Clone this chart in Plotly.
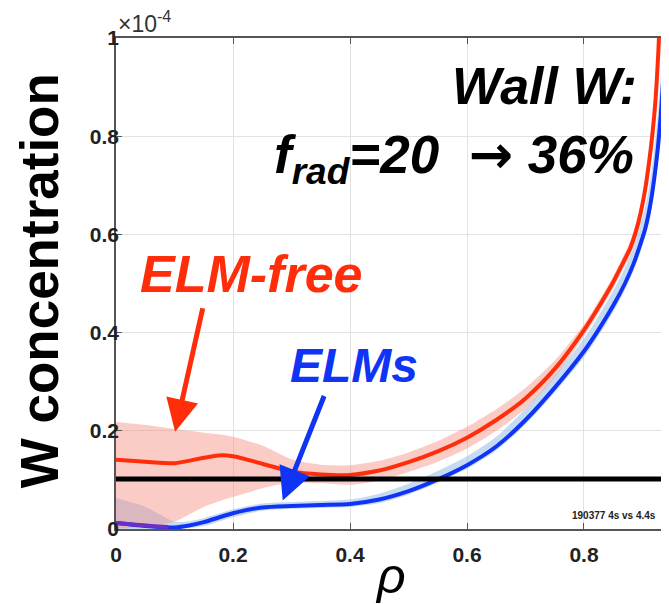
import plotly.graph_objects as go

# ---------------- data (W concentration in units of 1e-4) ----------------
rho_red = [0.0, 0.05, 0.1, 0.15, 0.18, 0.2, 0.25, 0.3, 0.35, 0.4, 0.45, 0.5, 0.55, 0.6,
           0.65, 0.7, 0.75, 0.8, 0.825, 0.85, 0.865, 0.879, 0.888, 0.897, 0.905, 0.911,
           0.917, 0.922, 0.927, 0.932]
red_mid = [0.141, 0.137, 0.134, 0.145, 0.150, 0.148, 0.133, 0.117, 0.111, 0.110, 0.119, 0.136,
           0.158, 0.186, 0.222, 0.266, 0.326, 0.405, 0.452, 0.503, 0.538, 0.572, 0.603, 0.645,
           0.695, 0.745, 0.805, 0.870, 0.970, 1.100]
red_hi = [0.218, 0.212, 0.204, 0.196, 0.192, 0.188, 0.170, 0.142, 0.131, 0.130, 0.139, 0.156,
          0.179, 0.208, 0.244, 0.287, 0.343, 0.417, 0.464, 0.515, 0.551, 0.586, 0.618, 0.662,
          0.715, 0.768, 0.833, 0.905, 1.015, 1.160]
red_lo = [0.000, 0.005, 0.015, 0.045, 0.058, 0.065, 0.083, 0.094, 0.093, 0.090, 0.099, 0.116,
          0.137, 0.164, 0.200, 0.245, 0.309, 0.393, 0.440, 0.491, 0.525, 0.558, 0.588, 0.628,
          0.675, 0.722, 0.777, 0.835, 0.925, 1.040]

rho_blue = [0.0, 0.05, 0.1, 0.125, 0.15, 0.2, 0.25, 0.3, 0.35, 0.4, 0.45, 0.5, 0.55, 0.6,
            0.65, 0.7, 0.75, 0.8, 0.825, 0.85, 0.87, 0.885, 0.895, 0.905, 0.913, 0.92,
            0.926, 0.931, 0.935, 0.938, 0.943]
blue_mid = [0.012, 0.006, 0.003, 0.007, 0.014, 0.032, 0.044, 0.047, 0.049, 0.051, 0.060, 0.077,
            0.101, 0.130, 0.168, 0.222, 0.288, 0.362, 0.406, 0.455, 0.500, 0.541, 0.575, 0.613,
            0.658, 0.713, 0.773, 0.838, 0.908, 0.980, 1.120]
blue_hi = [0.063, 0.045, 0.015, 0.016, 0.022, 0.040, 0.052, 0.055, 0.057, 0.060, 0.072, 0.092,
           0.118, 0.148, 0.188, 0.245, 0.312, 0.388, 0.434, 0.485, 0.532, 0.576, 0.615, 0.658,
           0.708, 0.773, 0.843, 0.918, 0.998, 1.080, 1.240]
blue_lo = [0.000, 0.000, 0.000, 0.002, 0.006, 0.024, 0.037, 0.041, 0.043, 0.045, 0.053, 0.070,
           0.094, 0.123, 0.160, 0.213, 0.278, 0.350, 0.394, 0.442, 0.487, 0.527, 0.560, 0.596,
           0.638, 0.690, 0.746, 0.806, 0.873, 0.940, 1.080]

rho_purple = [0.0, 0.03, 0.06, 0.09]
purple_mid = [0.012, 0.009, 0.006, 0.004]

threshold = 0.102

x_ticks = [0, 0.2, 0.4, 0.6, 0.8]
x_ticklabels = ["0", "0.2", "0.4", "0.6", "0.8"]
y_ticks = [0, 0.2, 0.4, 0.6, 0.8, 1.0]
y_ticklabels = ["0", "0.2", "0.4", "0.6", "0.8", "1"]

RED = "#ff2d0a"
BLUE = "#1034f5"
PURPLE = "#6a2fc4"
PINK_FILL = "rgba(247,140,128,0.45)"
LBLUE_FILL = "rgba(150,190,232,0.55)"

SM = 0.7

fig = go.Figure()

# blue band
fig.add_trace(go.Scatter(x=rho_blue, y=blue_lo, mode="lines", line=dict(width=0, shape="spline", smoothing=SM),
                         hoverinfo="skip", showlegend=False))
fig.add_trace(go.Scatter(x=rho_blue, y=blue_hi, mode="lines", line=dict(width=0, shape="spline", smoothing=SM),
                         fill="tonexty", fillcolor=LBLUE_FILL, hoverinfo="skip", showlegend=False))
# red band
fig.add_trace(go.Scatter(x=rho_red, y=red_lo, mode="lines", line=dict(width=0, shape="spline", smoothing=SM),
                         hoverinfo="skip", showlegend=False))
fig.add_trace(go.Scatter(x=rho_red, y=red_hi, mode="lines", line=dict(width=0, shape="spline", smoothing=SM),
                         fill="tonexty", fillcolor=PINK_FILL, hoverinfo="skip", showlegend=False))
# lines
fig.add_trace(go.Scatter(x=rho_red, y=red_mid, mode="lines", line=dict(color=RED, width=4, shape="spline", smoothing=SM),
                         showlegend=False))
fig.add_trace(go.Scatter(x=rho_blue, y=blue_mid, mode="lines", line=dict(color=BLUE, width=4, shape="spline", smoothing=SM),
                         showlegend=False))
fig.add_trace(go.Scatter(x=rho_purple, y=purple_mid, mode="lines", line=dict(color=PURPLE, width=4, shape="spline"),
                         showlegend=False))

# threshold line
fig.add_shape(type="line", xref="x domain", yref="y", x0=0, x1=1, y0=threshold, y1=threshold,
              line=dict(color="black", width=5), layer="above")

axis_common = dict(showline=True, linecolor="#555555", linewidth=1.5, mirror="ticks",
                   ticks="inside", ticklen=6, tickcolor="#555555", tickwidth=1.2,
                   showgrid=True, gridcolor="#e2e2e2", gridwidth=1, zeroline=False,
                   automargin=False,
                   tickfont=dict(family="Liberation Sans", size=21, color="#222222", weight="bold"))

fig.update_xaxes(range=[0, 0.9436], tickvals=x_ticks, ticktext=x_ticklabels,
                 ticklabelstandoff=6, **axis_common)
fig.update_yaxes(range=[0, 1.0], tickvals=y_ticks, ticktext=y_ticklabels,
                 ticklabelstandoff=-9, **axis_common)

ann = []
ann.append(dict(text="W concentration", xref="paper", yref="paper", x=-0.139, y=0.505,
                textangle=-90, showarrow=False, xanchor="center", yanchor="middle",
                font=dict(family="Liberation Sans", size=53, color="black", weight="bold")))
ann.append(dict(text="<i>ρ</i>", xref="paper", yref="paper", x=(390 - 116) / 552, y=-0.095,
                showarrow=False, xanchor="center", yanchor="middle",
                font=dict(family="Liberation Sans", size=50, color="black")))
ann.append(dict(text="×10<sup>-4</sup>", xref="paper", yref="paper", x=0.0, y=1.0,
                showarrow=False, xanchor="left", yanchor="bottom", yshift=-1,
                font=dict(family="Liberation Sans", size=23, color="#333333")))
ann.append(dict(text="<b><i>Wall W:</i></b>", xref="paper", yref="paper", x=0.947, y=0.902,
                showarrow=False, xanchor="right", yanchor="middle",
                font=dict(family="Liberation Sans", size=52, color="black")))
ann.append(dict(text="<b><i>f<sub>rad</sub>=20\u00a0\u00a0<span style=\"font-family:'DejaVu Sans'\">→</span> 36%</i></b>",
                xref="paper", yref="paper", x=0.942, y=0.7556,
                showarrow=False, xanchor="right", yanchor="middle",
                font=dict(family="Liberation Sans", size=53, color="black")))
ann.append(dict(text="<b><i>ELM-free</i></b>", xref="paper", yref="paper", x=0.2446, y=0.519,
                showarrow=False, xanchor="center", yanchor="middle",
                font=dict(family="Liberation Sans", size=52, color=RED)))
ann.append(dict(text="<b><i>ELMs</i></b>", xref="paper", yref="paper", x=0.431, y=0.332,
                showarrow=False, xanchor="center", yanchor="middle",
                font=dict(family="Liberation Sans", size=48, color=BLUE)))
ann.append(dict(text="", x=0.101, y=0.198, xref="x", yref="y", ax=28, ay=-125,
                showarrow=True, arrowhead=2, arrowsize=1.3, arrowwidth=5, arrowcolor=RED, standoff=0))
ann.append(dict(text="", x=0.285, y=0.058, xref="x", yref="y", ax=42, ay=-106,
                showarrow=True, arrowhead=2, arrowsize=1.3, arrowwidth=5, arrowcolor=BLUE, standoff=0))
ann.append(dict(text="<b>190377 4s vs 4.4s</b>", xref="paper", yref="paper", x=0.982, y=0.0285,
                showarrow=False, xanchor="right", yanchor="middle",
                font=dict(family="Liberation Sans", size=10, color="#222222")))

# page body has an 8px margin, so the figure is 8px smaller than the window
fig.update_layout(width=661, height=596, margin=dict(l=108, r=1, t=30, b=75),
                  paper_bgcolor="white", plot_bgcolor="white", annotations=ann,
                  showlegend=False)

fig.write_html("out.html")
